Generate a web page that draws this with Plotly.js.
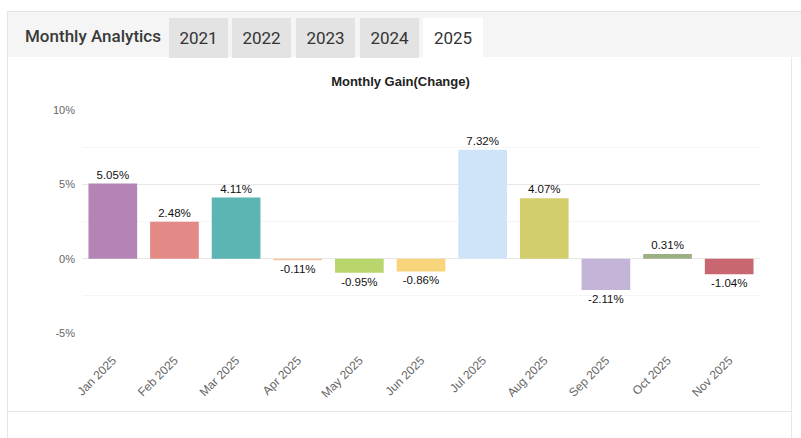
<!DOCTYPE html>
<html>
<head>
<meta charset="utf-8">
<script src="https://cdn.plot.ly/plotly-3.0.1.min.js"></script>
<style>
  html, body { margin:0; padding:0; background:#fff; width:801px; height:438px; overflow:hidden; }
  #header { position:absolute; left:7px; top:11px; width:794px; height:46px; background:#f5f5f5; border-top:1px solid #e2e2e2; box-sizing:border-box; }
  #title-h { position:absolute; left:18px; top:2px; height:45px; line-height:45px; font-family:Roboto, "Noto Sans", sans-serif; font-size:17px; font-weight:500; color:#3a3a3a; }
  .tab { position:absolute; top:6px; height:40px; width:59px; line-height:40px; text-align:center; background:#e3e3e3; font-family:Roboto, "Noto Sans", sans-serif; font-size:17px; color:#333; }
  .tab.active { background:#fff; width:60px; }
  #leftline { position:absolute; left:7px; top:11px; width:1px; height:427px; background:#e5e5e5; }
  #rightline { position:absolute; left:791px; top:57px; width:1px; height:381px; background:#e8e8e8; }
  #bottomline { position:absolute; left:7px; top:411px; width:785px; height:1px; background:#e5e5e5; }
  #chart { position:absolute; left:0; top:0; width:801px; height:438px; }
</style>
</head>
<body>
<div id="header">
  <div id="title-h">Monthly Analytics</div>
</div>
<div id="leftline"></div>
<div id="rightline"></div>
<div id="bottomline"></div>
<div id="chart"></div>
<script>
const tabs = ["2021", "2022", "2023", "2024", "2025"];
const activeTab = "2025";
const months = ["Jan 2025","Feb 2025","Mar 2025","Apr 2025","May 2025","Jun 2025","Jul 2025","Aug 2025","Sep 2025","Oct 2025","Nov 2025"];
const gains = [5.05, 2.48, 4.11, -0.11, -0.95, -0.86, 7.32, 4.07, -2.11, 0.31, -1.04];
const barColors = ["#b384b4","#e38a86","#5cb5b2","#f8c19c","#b9d66d","#f8d47b","#cee4f8","#d3ce6c","#c4b5d8","#9bb083","#c8676f"];
const yTicks = [-5, 0, 5, 10];
const yTickText = ["-5%", "0%", "5%", "10%"];

// header tabs
const header = document.getElementById("header");
const tabLefts = [162, 225, 289, 353, 416];
tabs.forEach((t, i) => {
  const d = document.createElement("div");
  d.className = "tab" + (t === activeTab ? " active" : "");
  d.style.left = tabLefts[i] + "px";
  d.textContent = t;
  header.appendChild(d);
});

const trace = {
  type: "bar",
  x: months,
  y: gains,
  marker: { color: barColors },
  texttemplate: "%{y:.2f}%",
  textposition: "outside",
  textfont: { family: "Liberation Sans, Arial, sans-serif", size: 11.5, color: "#111111" },
  cliponaxis: false,
  hoverinfo: "x+y"
};

const layout = {
  width: 801, height: 438,
  margin: { l: 82, r: 41, t: 110, b: 105 },
  paper_bgcolor: "rgba(0,0,0,0)",
  plot_bgcolor: "rgba(0,0,0,0)",
  bargap: 0.21,
  showlegend: false,
  title: {
    text: "<b>Monthly Gain(Change)</b>",
    font: { family: "Liberation Sans, Arial, sans-serif", size: 13, color: "#222222" },
    x: 0.5, xref: "container", xanchor: "center",
    y: 1 - 81/438, yref: "container", yanchor: "middle"
  },
  xaxis: {
    type: "category",
    tickangle: -45,
    tickfont: { family: "Liberation Sans, Arial, sans-serif", size: 12, color: "#666666" },
    showgrid: false, zeroline: false, showline: false,
    ticks: "", ticklabelstandoff: 17
  },
  yaxis: {
    range: [-5, 10],
    tickvals: yTicks,
    ticktext: yTickText,
    tickfont: { family: "Liberation Sans, Arial, sans-serif", size: 11, color: "#666666" },
    showgrid: true, gridcolor: "#e8e8e8", gridwidth: 1,
    zeroline: true, zerolinecolor: "#e8e8e8", zerolinewidth: 1,
    showline: false, ticks: "", ticklabelstandoff: 6,
    minor: { dtick: 2.5, tick0: 0, showgrid: true, gridcolor: "#f5f5f5" }
  }
};

Plotly.newPlot("chart", [trace], layout, { displayModeBar: false, staticPlot: true });
</script>
</body>
</html>
